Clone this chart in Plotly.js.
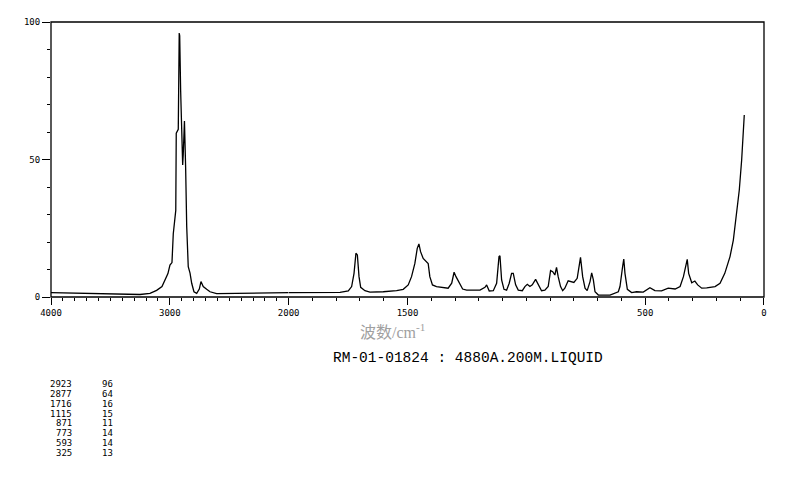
<!DOCTYPE html>
<html>
<head>
<meta charset="utf-8">
<script src="https://cdn.plot.ly/plotly-3.0.1.min.js"></script>
<style>html,body{margin:0;padding:0;background:#fff;}#chart{width:794px;height:482px;}</style>
</head>
<body>
<div id="chart"></div>
<script>
// Raman shift (cm-1) and intensity
const wavenumber = [4000,3798,3529,3251,3167,3111,3066,3041,3016,2999,2982,2971,2957,2950,2946,2929,2921,2917,2909,2901,2892,2887,2877,2867,2858,2845,2830,2816,2797,2774,2752,2738,2719,2690,2662,2606,2410,2157,2000,
  1868,1784,1749,1735,1725,1717,1711,1704,1697,1679,1658,1602,1546,1518,1497,1483,1469,1459,1452,1445,1434,1422,1413,1406,1395,1378,1350,1329,1314,1304,1296,1282,1268,1251,1195,1174,1167,1156,1139,1125,1115,1111,1104,1094,1083,1072,1062,1055,1045,1034,1017,1006,996,985,975,961,950,936,922,908,898,889,880,873,866,856,847,838,824,812,800,786,777,772,763,753,744,732,725,718,711,697,648,627,613,606,599,595,590,585,575,557,536,508,480,459,431,403,374,353,339,329,323,317,304,291,279,262,241,206,185,165,143,129,116,104,94,87,83];
const intensity = [1.6,1.4,1.0,0.9,1.3,2.4,3.8,6.2,8.5,11.6,12.5,23,31,31.5,59.6,61,96,95,75,59.6,48,52,64,47,25.6,11,8.7,5,1.9,1.3,2.9,5.6,3.8,2.8,1.9,1.2,1.3,1.5,1.6,
  1.7,1.7,2.2,3.8,8.6,15.9,15.3,7.4,3.5,2.3,1.8,1.9,2.3,2.8,4.4,7.4,12.2,17.7,19.3,16.5,14,12.8,12.2,7.4,4.4,3.8,3.5,3.2,5,9,7.4,5,2.9,2.5,2.5,3.5,4.4,2.2,2.3,5,14.7,15,6.2,2.8,2.5,5,8.6,8.6,4.4,2.5,2.3,3.8,4.6,3.8,4.4,6.4,4.4,2.3,2.5,3.8,9.6,9.2,8,10.8,7.4,3.8,2.3,3.2,5.9,5.6,5.3,6.8,11,14.4,7.4,3.2,2.3,5.6,8.8,6.2,1.9,0.7,0.7,1.3,1.9,3.8,7.4,11,13.8,8.6,2.8,1.6,1.9,1.8,3.4,2.3,2.2,3.2,2.9,3.8,7.4,11.3,13.7,8.6,5.2,5.8,4.4,3.2,3.3,3.8,5,8.6,14.7,20.7,29.2,38.9,49.8,59.5,66.2];

const highTicks = [4000, 3000, 2000];
const lowTicks = [1500, 500, 0];
const yTicks = [0, 50, 100];

const peakWn = [2923, 2877, 1716, 1115, 871, 773, 593, 325];
const peakInt = [96, 64, 16, 15, 11, 14, 14, 13];

const sampleLabel = 'RM-01-01824 : 4880A.200M.LIQUID';
const xTitle = '波数/cm<sup>-1</sup>';

const hiX = [], hiY = [], loX = [], loY = [];
wavenumber.forEach((w, i) => {
  if (w >= 2000) { hiX.push(w); hiY.push(intensity[i]); }
  if (w <= 2000) { loX.push(w); loY.push(intensity[i]); }
});

const lineStyle = {color: '#000', width: 1.3};
const ghost = {color: 'rgba(0,0,0,0)', width: 0};
const traces = [
  {x: hiX, y: hiY, xaxis: 'x', yaxis: 'y', type: 'scatter', mode: 'lines', line: lineStyle, hoverinfo: 'skip'},
  {x: loX, y: loY, xaxis: 'x2', yaxis: 'y', type: 'scatter', mode: 'lines', line: lineStyle, hoverinfo: 'skip'},
  // invisible copies so the labelled overlay axes are drawn
  {x: hiX, y: hiY, xaxis: 'x3', yaxis: 'y2', type: 'scatter', mode: 'lines', line: ghost, hoverinfo: 'skip'},
  {x: loX, y: loY, xaxis: 'x4', yaxis: 'y2', type: 'scatter', mode: 'lines', line: ghost, hoverinfo: 'skip'}
];

const tickFont = {family: 'DejaVu Sans Mono, monospace', size: 9, color: '#000'};
const common = {showgrid: false, zeroline: false, showline: false, tickcolor: '#000', tickwidth: 1, ticks: 'outside', fixedrange: true};

const annotations = [];
const tableFont = {family: 'DejaVu Sans Mono, monospace', size: 9, color: '#000'};
peakWn.forEach((w, i) => {
  const yy = 384.3 + i * 9.77;
  annotations.push({xref: 'paper', yref: 'paper', x: (74 - 51) / 713, y: (297 - yy) / 275, xanchor: 'right', yanchor: 'middle', showarrow: false, text: String(w), font: tableFont});
  annotations.push({xref: 'paper', yref: 'paper', x: (100 - 51) / 713, y: (297 - yy) / 275, xanchor: 'left', yanchor: 'middle', showarrow: false, text: String(peakInt[i]), font: tableFont});
});
annotations.push({xref: 'paper', yref: 'paper', x: (468 - 51) / 713, y: (297 - 358) / 275, xanchor: 'center', yanchor: 'middle', showarrow: false, text: sampleLabel, font: {family: 'Liberation Mono, DejaVu Sans Mono, monospace', size: 14.5, color: '#000'}});
annotations.push({xref: 'paper', yref: 'paper', x: (392 - 51) / 713, y: (297 - 331) / 275, xanchor: 'center', yanchor: 'middle', showarrow: false, text: xTitle, font: {family: 'Liberation Serif, Noto Sans CJK SC, serif', size: 16, color: '#a0a0a0'}});

const layout = {
  width: 794, height: 482,
  margin: {l: 51, r: 30, t: 22, b: 185, pad: 0},
  paper_bgcolor: '#fff', plot_bgcolor: '#fff',
  showlegend: false,
  // short ticks every 100 cm-1
  xaxis: Object.assign({domain: [0, 1/3], range: [4000, 2000], anchor: 'y', tickmode: 'linear', tick0: 0, dtick: 100, ticklen: 3, showticklabels: false}, common),
  xaxis2: Object.assign({domain: [1/3, 1], range: [2000, 0], anchor: 'y', tickmode: 'linear', tick0: 0, dtick: 100, ticklen: 3, showticklabels: false}, common),
  // labelled long ticks
  xaxis3: Object.assign({domain: [0, 1/3], range: [4000, 2000], anchor: 'y', overlaying: 'x', tickmode: 'array', tickvals: highTicks, ticktext: highTicks.map(String), ticklen: 7, tickfont: tickFont}, common),
  xaxis4: Object.assign({domain: [1/3, 1], range: [2000, 0], anchor: 'y', overlaying: 'x2', tickmode: 'array', tickvals: lowTicks, ticktext: lowTicks.map(String), ticklen: 7, tickfont: tickFont}, common),
  yaxis: Object.assign({range: [0, 100], anchor: 'x', tickmode: 'linear', tick0: 0, dtick: 10, ticklen: 3, showticklabels: false}, common),
  yaxis2: Object.assign({range: [0, 100], anchor: 'x', overlaying: 'y', side: 'left', tickmode: 'array', tickvals: yTicks, ticktext: yTicks.map(String), ticklen: 8, tickfont: tickFont}, common),
  shapes: [{type: 'rect', xref: 'paper', yref: 'paper', x0: 0, x1: 1, y0: 0, y1: 1, line: {color: '#000', width: 1.3}, layer: 'above'}],
  annotations: annotations
};

Plotly.newPlot('chart', traces, layout, {staticPlot: true, displayModeBar: false});
</script>
</body>
</html>
